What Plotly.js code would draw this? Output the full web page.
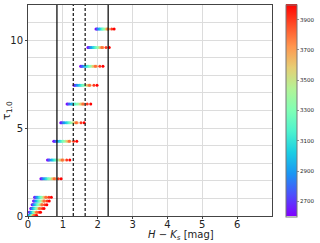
<!DOCTYPE html>
<html><head><meta charset="utf-8">
<script src="https://cdn.plot.ly/plotly-3.0.1.min.js"></script>
<style>html,body{margin:0;padding:0;background:#fff}#c{width:320px;height:243px}</style>
</head><body><div id="c"></div>
<script>
const teff = [2600,2700,2800,2900,3000,3100,3200,3300,3400,3500,3600,3700,3800,3900,4000];
const tau = [10.64, 9.59, 8.52, 7.44, 6.37, 5.30, 4.25, 3.18, 2.12, 1.06, 0.85, 0.64, 0.43, 0.21, 0.03];
const hk = [
 [1.95,1.98,2.00,2.04,2.07,2.11,2.14,2.17,2.21,2.27,2.25,2.31,2.29,2.40,2.47],
 [1.72,1.75,1.78,1.82,1.87,1.90,1.94,1.98,2.03,2.10,2.07,2.15,2.12,2.24,2.33],
 [1.51,1.54,1.57,1.62,1.66,1.70,1.74,1.78,1.83,1.91,1.87,1.96,1.93,2.06,2.15],
 [1.32,1.35,1.39,1.43,1.48,1.52,1.56,1.60,1.65,1.73,1.70,1.78,1.76,1.89,1.98],
 [1.12,1.15,1.19,1.24,1.28,1.32,1.36,1.41,1.46,1.54,1.51,1.60,1.57,1.70,1.80],
 [0.94,0.97,1.01,1.05,1.10,1.14,1.18,1.22,1.28,1.36,1.32,1.41,1.38,1.52,1.61],
 [0.74,0.77,0.81,0.85,0.90,0.94,0.98,1.02,1.07,1.15,1.12,1.20,1.18,1.31,1.40],
 [0.56,0.59,0.62,0.67,0.71,0.75,0.79,0.83,0.88,0.96,0.92,1.01,0.98,1.11,1.20],
 [0.37,0.40,0.43,0.47,0.51,0.54,0.58,0.61,0.66,0.73,0.70,0.78,0.75,0.87,0.95],
 [0.19,0.21,0.24,0.27,0.31,0.33,0.36,0.39,0.43,0.49,0.46,0.53,0.51,0.60,0.67],
 [0.16,0.18,0.21,0.24,0.27,0.30,0.32,0.35,0.39,0.44,0.42,0.48,0.46,0.55,0.61],
 [0.12,0.14,0.16,0.19,0.22,0.25,0.27,0.30,0.33,0.38,0.36,0.41,0.40,0.48,0.54],
 [0.08,0.10,0.12,0.14,0.17,0.19,0.22,0.24,0.27,0.32,0.30,0.35,0.33,0.41,0.46],
 [0.04,0.06,0.07,0.09,0.12,0.14,0.16,0.17,0.20,0.24,0.22,0.26,0.25,0.32,0.36],
 [0.00,0.01,0.03,0.04,0.06,0.08,0.09,0.11,0.13,0.16,0.14,0.18,0.17,0.22,0.25]
];
const solidLines = [0.83, 2.30];
const dashedLines = [1.30, 1.64];
const xTicks = [0,1,2,3,4,5,6];
const cbTicks = [2700,2900,3100,3300,3500,3700,3900];

const rainbow = [
 [0.0,'rgb(128,0,255)'],[0.1,'rgb(77,79,252)'],[0.2,'rgb(26,150,243)'],
 [0.3,'rgb(26,206,227)'],[0.4,'rgb(77,243,206)'],[0.5,'rgb(128,255,180)'],
 [0.6,'rgb(179,243,150)'],[0.7,'rgb(230,206,116)'],[0.8,'rgb(255,150,79)'],
 [0.9,'rgb(255,79,40)'],[1.0,'rgb(255,0,0)']
];

const X=[],Y=[],C=[];
tau.forEach((t,i)=>{ hk[i].forEach((v,j)=>{ X.push(v); Y.push(t); C.push(teff[j]); }); });

const trace = {
  type:'scatter', mode:'markers', x:X, y:Y,
  marker:{size:3, color:C, colorscale:rainbow, cmin:2600, cmax:4000, line:{width:0},
    colorbar:{x:1.059, xanchor:'left', y:0.5, yanchor:'middle', len:1.005, lenmode:'fraction',
      thickness:11, thicknessmode:'pixels', outlinewidth:1, outlinecolor:'#777',
      tickvals:cbTicks, ticks:'outside', ticklen:2, tickwidth:0.6, tickcolor:'#444',
      tickfont:{size:5.5, family:'DejaVu Sans', color:'#222'}, xpad:0, ypad:0}},
  hoverinfo:'skip', showlegend:false
};

const shapes = [];
solidLines.forEach(v=>shapes.push({type:'line', xref:'x', yref:'paper', x0:v, x1:v, y0:0, y1:1, line:{color:'#111', width:1.3}}));
dashedLines.forEach(v=>shapes.push({type:'line', xref:'x', yref:'paper', x0:v, x1:v, y0:0, y1:1, line:{color:'#222', width:1.3, dash:'3px,2px'}}));

const layout = {
  width:320, height:243,
  margin:{l:28, r:44, t:4, b:27},
  paper_bgcolor:'#fff', plot_bgcolor:'#fff',
  font:{family:'DejaVu Sans', color:'#222'},
  xaxis:{range:[0,7], tickvals:xTicks, showgrid:true, gridcolor:'#dcdcdc', gridwidth:1,
    zeroline:false, showline:true, mirror:true, linecolor:'#444', linewidth:1,
    ticks:'outside', ticklen:2, tickcolor:'#444', tickfont:{size:10}, ticklabelstandoff:-3},
  yaxis:{range:[0,12], tickvals:[0,5,10], showgrid:true, gridcolor:'#dcdcdc', gridwidth:1,
    minor:{dtick:1, showgrid:true, gridcolor:'#dcdcdc', gridwidth:1},
    zeroline:false, showline:true, mirror:true, linecolor:'#444', linewidth:1,
    ticks:'outside', ticklen:2, tickcolor:'#444', tickfont:{size:10},
    title:{text:'τ<sub>1.0</sub>', font:{size:11}, standoff:4}},
  shapes:shapes,
  annotations:[{xref:'paper', yref:'paper', x:0.625, y:0, yshift:-11, xanchor:'center', yanchor:'top',
    text:'<i>H</i> − <i>K</i><sub><i>s</i></sub> [mag]', showarrow:false, font:{size:10}}]
};

Plotly.newPlot('c',[trace],layout,{staticPlot:true, displayModeBar:false});
</script></body></html>
